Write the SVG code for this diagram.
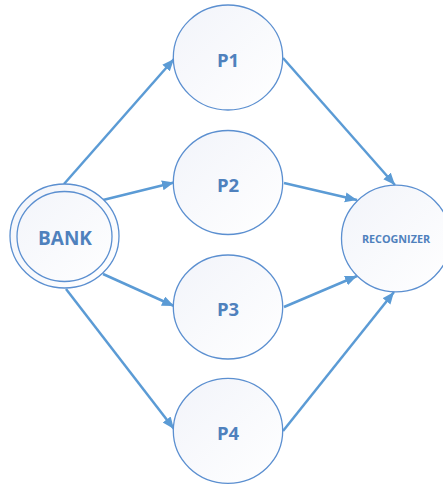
<svg xmlns="http://www.w3.org/2000/svg" width="443" height="484" viewBox="0 0 443 484">
<style>
.node{fill:url(#g);stroke:#5b8fd0;stroke-width:1.3}
.lbl{font-family:"Open Sans","Liberation Sans",sans-serif;font-weight:bold;fill:#4f81bd;text-anchor:middle;dominant-baseline:central}
.big{font-size:18.5px}
.bank{font-size:19px}
.small{font-size:10.8px}
.edge{stroke:#5b9bd5;stroke-width:2.5;fill:none;marker-end:url(#ah)}
</style>
<defs>
<linearGradient id="g" x1="0" y1="0" x2="1" y2="1">
<stop offset="0" stop-color="#f2f4fa"/>
<stop offset="1" stop-color="#ffffff"/>
</linearGradient>
<marker id="ah" markerUnits="userSpaceOnUse" markerWidth="14" markerHeight="12" refX="12" refY="5" orient="auto">
<path d="M0,0 L12,5 L0,10 Z" fill="#5b9bd5"/>
</marker>
</defs>
<rect width="443" height="484" fill="#ffffff"/>
<g id="connectors">
<line class="edge" x1="64" y1="184" x2="174" y2="59"/>
<line class="edge" x1="103" y1="200" x2="174" y2="182.5"/>
<line class="edge" x1="103" y1="274" x2="174" y2="306"/>
<line class="edge" x1="66" y1="289" x2="174" y2="429"/>
<line class="edge" x1="283" y1="58" x2="395" y2="185"/>
<line class="edge" x1="284" y1="183" x2="357" y2="200"/>
<line class="edge" x1="284" y1="307" x2="357" y2="276"/>
<line class="edge" x1="283" y1="431" x2="394" y2="292"/>
</g>
<g id="bank">
<ellipse class="node" cx="64.5" cy="236" rx="54.5" ry="52"/>
<ellipse cx="64.5" cy="236.5" rx="47.5" ry="45" fill="none" stroke="#5b8fd0" stroke-width="1.3"/>
<text class="lbl bank" x="65" y="237.5">BANK</text>
</g>
<g id="p1">
<ellipse class="node" cx="228" cy="57.5" rx="54.7" ry="52.5"/>
<text class="lbl big" x="228" y="59">P1</text>
</g>
<g id="p2">
<ellipse class="node" cx="228" cy="182.5" rx="54.7" ry="52"/>
<text class="lbl big" x="228" y="184">P2</text>
</g>
<g id="p3">
<ellipse class="node" cx="228" cy="307" rx="54.7" ry="52"/>
<text class="lbl big" x="228" y="308">P3</text>
</g>
<g id="p4">
<ellipse class="node" cx="228" cy="430.8" rx="54.7" ry="52.5"/>
<text class="lbl big" x="228" y="432">P4</text>
</g>
<g id="recognizer">
<ellipse class="node" cx="396" cy="238.5" rx="54.5" ry="53.3"/>
<text class="lbl small" x="396" y="238">RECOGNIZER</text>
</g>
</svg>
